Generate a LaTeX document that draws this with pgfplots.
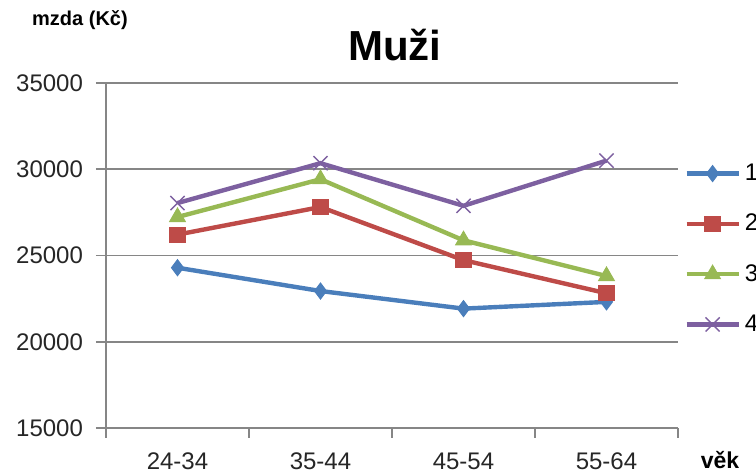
\documentclass[border=0pt]{standalone}
\usepackage{pgfplots}
\pgfplotsset{compat=1.18}
\usepackage{fontspec}
\setmainfont{Liberation Sans}
\definecolor{s1}{HTML}{4A7EBB}
\definecolor{s2}{HTML}{BE4B48}
\definecolor{s3}{HTML}{98B954}
\definecolor{s4}{HTML}{7D60A0}
\definecolor{gridgray}{HTML}{868686}

\begin{document}
\begin{tikzpicture}
\path[use as bounding box] (-53pt,-23.5pt) rectangle (325pt,214pt);
\begin{axis}[
    scale only axis, width=286pt, height=172.5pt,
    xmin=0.5, xmax=4.5, ymin=15000, ymax=35000,
    xtick={1,2,3,4}, xticklabels={24-34,35-44,45-54,55-64},
    minor xtick={0.5,1.5,2.5,3.5,4.5},
    ytick={15000,20000,...,35000},
    scaled y ticks=false,
    /pgf/number format/set thousands separator={},
    /pgf/number format/assume math mode=true,
    axis x line*=bottom, axis y line*=left,
    axis line style={gridgray, line width=0.8pt, -},
    tick align=outside,
    major tick length=5pt, minor tick length=5pt,
    major x tick style={draw=none},
    minor x tick style={gridgray, line width=0.8pt},
    major y tick style={gridgray, line width=0.8pt},
    ymajorgrids, grid style={gridgray, line width=0.8pt},
    ticklabel style={font=\fontsize{12}{14}\selectfont, text=black!85},
    yticklabel style={xshift=-3pt},
    xticklabel style={yshift=-4pt},
    legend entries={1,2,3,4},
    legend cell align=left,
    legend style={draw=none, fill=none, at={(axis description cs:1.0,0.79)},
        anchor=north west, row sep=11.3pt, font=\fontsize{12}{14}\selectfont},
    legend image code/.code={
        \draw[#1, mark repeat=2, mark phase=2] plot coordinates {(0pt,0pt) (13pt,0pt) (26pt,0pt)};},
]
\addplot[s1, line width=2.2pt, mark=diamond*, mark size=4pt, mark options={solid, fill=s1, line width=0.5pt}]
  coordinates {(1,24290) (2,22940) (3,21920) (4,22310)};
\addplot[s2, line width=2.2pt, mark=square*, mark size=3.8pt, mark options={solid, fill=s2, line width=0.5pt}]
  coordinates {(1,26210) (2,27810) (3,24730) (4,22810)};
\addplot[s3, line width=2.2pt, mark=triangle*, mark size=4.5pt, mark options={solid, fill=s3, line width=0.5pt}]
  coordinates {(1,27230) (2,29420) (3,25880) (4,23810)};
\addplot[s4, line width=2.2pt, mark=x, mark size=5pt, mark options={solid, line width=0.7pt}]
  coordinates {(1,28040) (2,30350) (3,27880) (4,30500)};
\end{axis}
\node[font=\bfseries\fontsize{21}{24}\selectfont] at (144.5pt,191.5pt) {Muži};
\node[font=\bfseries\fontsize{10}{12}\selectfont] at (-13pt,204pt) {mzda (Kč)};
\node[font=\bfseries\fontsize{11.5}{13}\selectfont] at (307pt,-16pt) {věk};
\end{tikzpicture}
\end{document}
